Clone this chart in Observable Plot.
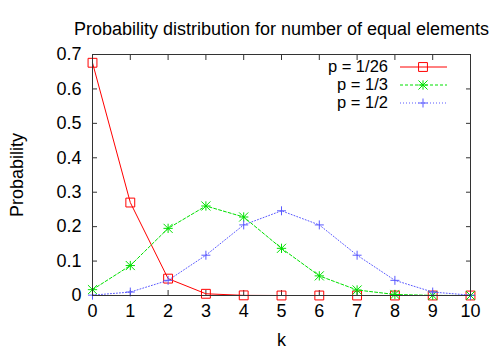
<!DOCTYPE html>
<html>
<head>
<meta charset="utf-8">
<script src="https://cdn.jsdelivr.net/npm/d3@7"></script>
<script src="https://cdn.jsdelivr.net/npm/@observablehq/plot@0.6"></script>
<style>
  html, body { margin: 0; padding: 0; background: white; }
  #chart { width: 500px; height: 350px; }
</style>
</head>
<body>
<div id="chart"></div>
<script>
const ks = [0, 1, 2, 3, 4, 5, 6, 7, 8, 9, 10];
const p26 = [0.676, 0.270, 0.049, 0.005, 0.0004, 0, 0, 0, 0, 0, 0];
const p3 = [0.017, 0.087, 0.195, 0.260, 0.228, 0.137, 0.057, 0.016, 0.003, 0.0003, 0];
const p2 = [0.001, 0.010, 0.044, 0.117, 0.205, 0.246, 0.205, 0.117, 0.044, 0.010, 0.001];
const seriesNames = ["p = 1/26", "p = 1/3", "p = 1/2"];
const yTicks = [0, 0.1, 0.2, 0.3, 0.4, 0.5, 0.6, 0.7];
const titleText = "Probability distribution for number of equal elements";
const xLabel = "k";
const yLabel = "Probability";

const colors = ["#ff0000", "#00e000", "#5a5aff"];
const dashes = [null, "3,2", "1,2"];

const rows = (vals) => ks.map((k, i) => ({k, v: vals[i]}));
const d26 = rows(p26), d3s = rows(p3), d2 = rows(p2);

const font = "'Liberation Sans', Arial, Helvetica, sans-serif";
const fs = 18;

const chart = Plot.plot({
  width: 500,
  height: 350,
  marginLeft: 92,
  marginRight: 30,
  marginTop: 54,
  marginBottom: 55,
  style: {fontFamily: font, fontSize: fs + "px", color: "#000", background: "white"},
  x: {domain: [0, 10]},
  y: {domain: [0, 0.7]},
  marks: [
    Plot.axisX({anchor: "bottom", ticks: ks, tickSize: -5, tickPadding: 14, stroke: "#333",
      label: xLabel, labelAnchor: "center", labelArrow: "none", labelOffset: 50, fontSize: fs}),
    Plot.axisX({anchor: "top", ticks: ks, tickSize: -5, tickFormat: () => "", label: null, stroke: "#333"}),
    Plot.axisY({anchor: "left", ticks: yTicks, tickSize: -5, tickPadding: 16, stroke: "#333",
      tickFormat: d => d === 0 ? "0" : d3.format(".1f")(d),
      label: yLabel, labelAnchor: "center", labelArrow: "none", labelOffset: 82, fontSize: fs}),
    Plot.axisY({anchor: "right", ticks: yTicks, tickSize: -5, tickFormat: () => "", label: null, stroke: "#333"}),
    Plot.line(d26, {x: "k", y: "v", stroke: colors[0], strokeWidth: 1}),
    Plot.dot(d26, {x: "k", y: "v", symbol: "square", r: 5, stroke: colors[0], fill: "none", strokeWidth: 1}),
    Plot.line(d3s, {x: "k", y: "v", stroke: colors[1], strokeWidth: 1, strokeDasharray: dashes[1]}),
    Plot.dot(d3s, {x: "k", y: "v", symbol: "plus", r: 3.1, stroke: colors[1], strokeWidth: 1}),
    Plot.dot(d3s, {x: "k", y: "v", symbol: "times", r: 4.2, stroke: colors[1], strokeWidth: 1}),
    Plot.line(d2, {x: "k", y: "v", stroke: colors[2], strokeWidth: 1, strokeDasharray: dashes[2]}),
    Plot.dot(d2, {x: "k", y: "v", symbol: "plus", r: 3, stroke: colors[2], strokeWidth: 1}),
    Plot.frame({stroke: "#333"}),
    Plot.text([titleText], {frameAnchor: "top", dy: -32, fontSize: fs, fill: "#000"})
  ]
});
document.getElementById("chart").appendChild(chart);

// Legend (inside top-right of plot area)
const svg = d3.select(chart);
const leg = svg.append("g").attr("font-family", font).attr("font-size", 16.5);
const symSize = (r) => r * r * Math.PI;
const symbols = [
  [{t: d3.symbolSquare, r: 5}],
  [{t: d3.symbolPlus, r: 3.1}, {t: d3.symbolTimes, r: 4.2}],
  [{t: d3.symbolPlus, r: 3}]
];
seriesNames.forEach((name, i) => {
  const y = 67 + i * 18;
  leg.append("text").attr("x", 388).attr("y", y).attr("dy", "0.33em")
    .attr("text-anchor", "end").attr("fill", "#000").text(name);
  leg.append("line").attr("x1", 400).attr("x2", 447).attr("y1", y).attr("y2", y)
    .attr("stroke", colors[i]).attr("stroke-width", 1)
    .attr("stroke-dasharray", dashes[i]);
  symbols[i].forEach(s => {
    leg.append("path").attr("transform", `translate(423,${y})`)
      .attr("d", d3.symbol(s.t, symSize(s.r))())
      .attr("fill", "none").attr("stroke", colors[i]).attr("stroke-width", 1);
  });
});
</script>
</body>
</html>
